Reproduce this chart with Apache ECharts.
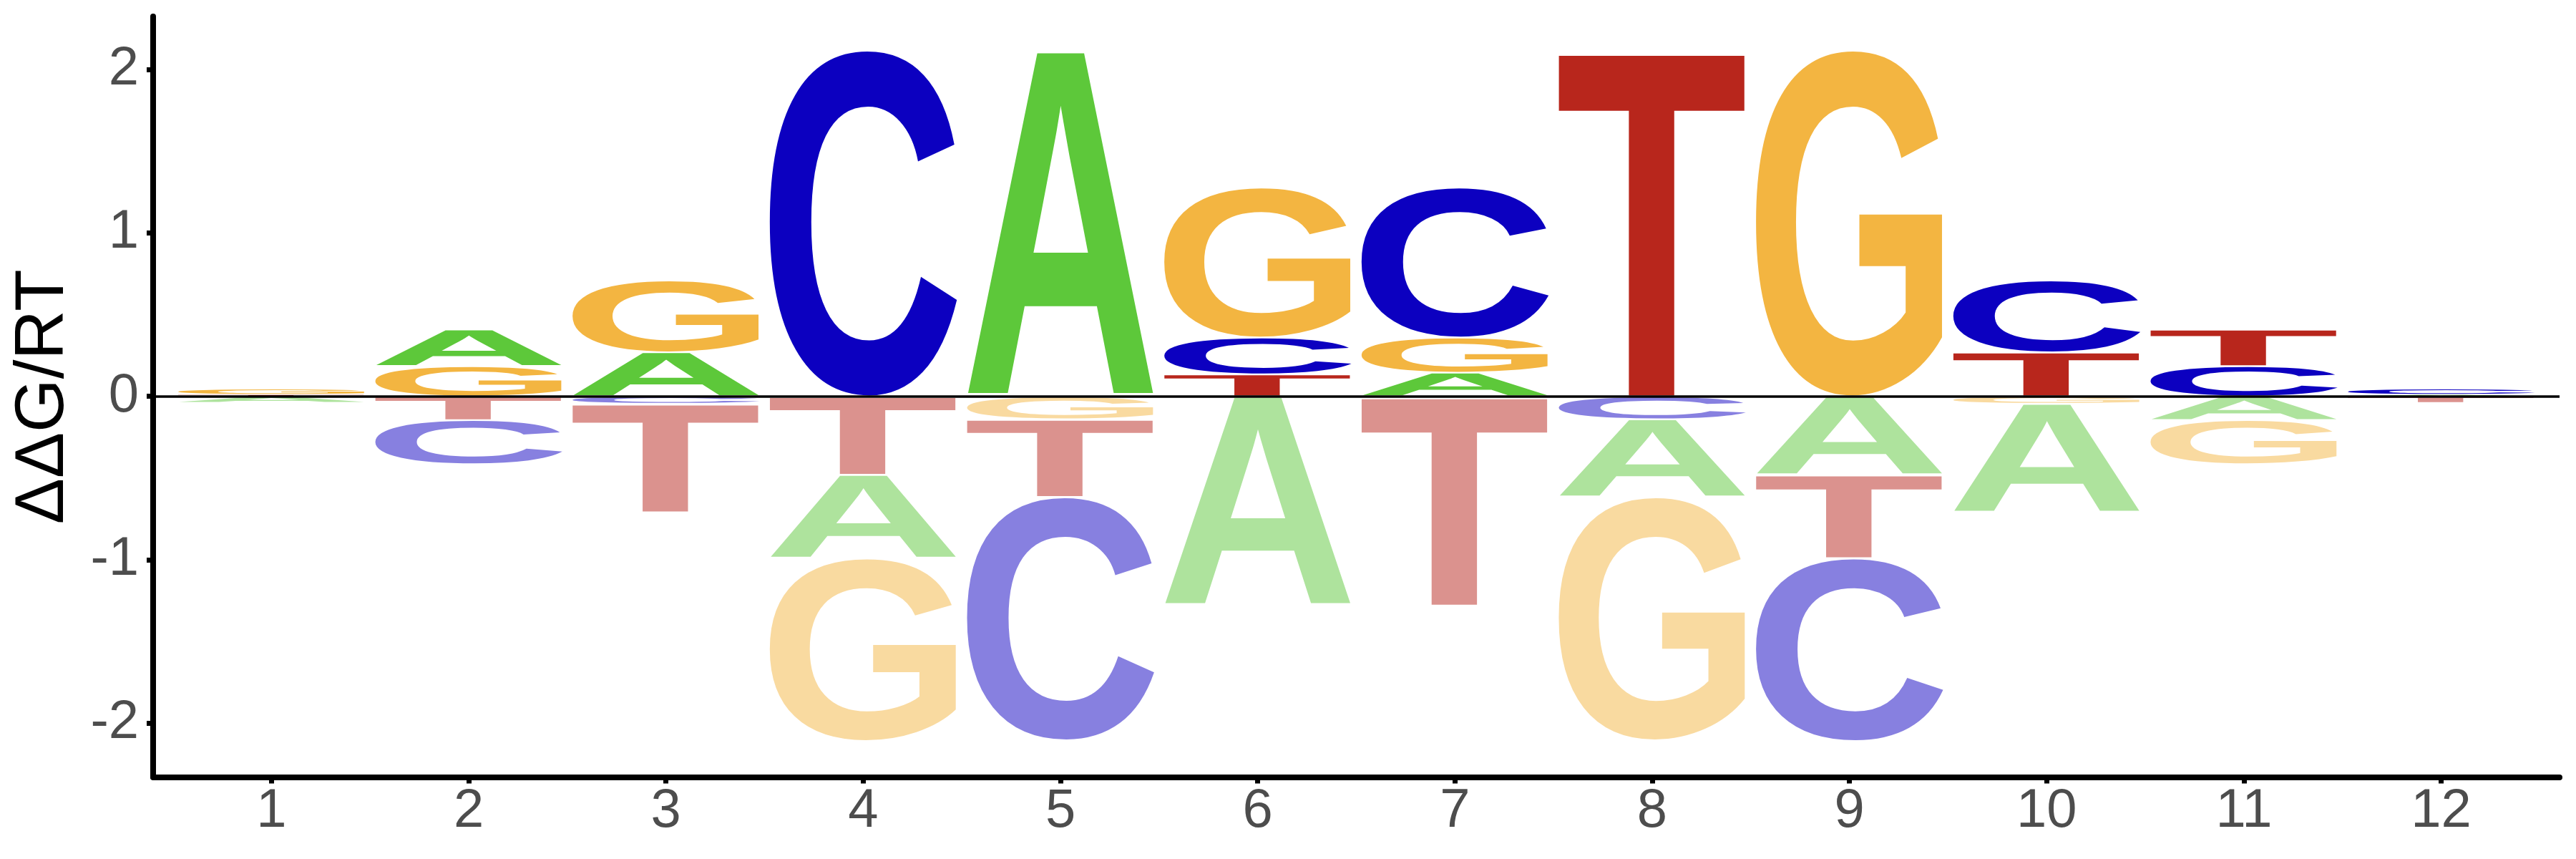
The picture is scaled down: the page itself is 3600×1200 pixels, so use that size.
<!DOCTYPE html>
<html>
<head>
<meta charset="utf-8">
<script src="https://cdn.jsdelivr.net/npm/echarts@6/dist/echarts.min.js"></script>
<style>
html, body { margin: 0; padding: 0; background: #ffffff; }
#chart { width: 3600px; height: 1200px; }
</style>
</head>
<body>
<div id="chart"></div>
<script>
// ---------------- data ----------------
const positions = [1, 2, 3, 4, 5, 6, 7, 8, 9, 10, 11, 12];
const xTickLabels = ['1', '2', '3', '4', '5', '6', '7', '8', '9', '10', '11', '12'];
const yTickValues = [-2, -1, 0, 1, 2];
const yTickLabels = ['-2', '-1', '0', '1', '2'];
const letters = ['A', 'C', 'G', 'T'];
// signed ΔΔG/RT contribution of each base at each position
const valuesA = [-0.04, 0.225, 0.27, -0.51, 2.11, -1.28, 0.145, -0.475, -0.48, -0.665, -0.145, 0.01];
const valuesC = [0, -0.27, -0.045, 2.12, -1.49, 0.225, 0.92, -0.14, -1.12, 0.44, 0.185, 0.037];
const valuesG = [0.037, 0.185, 0.44, -1.12, -0.14, 0.92, 0.215, -1.49, 2.12, -0.045, -0.27, 0];
const valuesT = [0.01, -0.145, -0.665, -0.48, -0.475, 0.135, -1.28, 2.11, -0.51, 0.27, 0.225, -0.04];
const yAxisTitle = 'ΔΔG/RT';

// ---------------- styles ----------------
const strongColors = ['#5DC83A', '#0C00C0', '#F3B541', '#B8261C'];
const fadedColors  = ['#AEE39D', '#8780E0', '#F9DAA0', '#DB928E'];
const LETTER_W = 0.95;
const INSET = 0.005;
const FS = 200;
const LETTER_FONT = '"Liberation Sans", Arial, Helvetica, sans-serif';
const AXIS_FONT = '"Liberation Sans", Arial, Helvetica, sans-serif';

// measure glyph ink boxes (textBaseline middle, left aligned), as zrender draws them
const mctx = document.createElement('canvas').getContext('2d');
mctx.font = 'normal bold ' + FS + 'px ' + LETTER_FONT;
mctx.textBaseline = 'middle';
mctx.textAlign = 'left';
const metrics = letters.map(function (ch) {
  const m = mctx.measureText(ch);
  return {
    L: -m.actualBoundingBoxLeft,
    R: m.actualBoundingBoxRight,
    T: -m.actualBoundingBoxAscent,
    B: m.actualBoundingBoxDescent
  };
});

// build stacked letter slots
const seriesVals = [valuesA, valuesC, valuesG, valuesT];
const items = [];
positions.forEach(function (p, i) {
  const vals = letters.map(function (l, k) { return { k: k, v: seriesVals[k][i] }; });
  const ups = vals.filter(function (d) { return d.v > 0; }).sort(function (a, b) { return a.v - b.v; });
  let acc = 0;
  ups.forEach(function (d) { items.push([p, acc, acc + d.v, d.k, 1]); acc += d.v; });
  const downs = vals.filter(function (d) { return d.v < 0; }).sort(function (a, b) { return b.v - a.v; });
  acc = 0;
  downs.forEach(function (d) { items.push([p, acc, acc + d.v, d.k, 0]); acc += d.v; });
});

function renderLetter(params, api) {
  const p = api.value(0), a = api.value(1), b = api.value(2), k = api.value(3), up = api.value(4);
  const h = Math.abs(b - a);
  const ins = Math.min(INSET, h * 0.2);
  const top = Math.max(a, b) - ins;
  const bot = Math.min(a, b) + ins;
  const tl = api.coord([p - LETTER_W / 2, top]);
  const br = api.coord([p + LETTER_W / 2, bot]);
  const m = metrics[k];
  const sx = (br[0] - tl[0]) / (m.R - m.L);
  const sy = Math.max(0.0001, (br[1] - tl[1])) / (m.B - m.T);
  return {
    type: 'text',
    x: tl[0] - m.L * sx,
    y: tl[1] - m.T * sy,
    scaleX: sx,
    scaleY: sy,
    style: {
      text: letters[k],
      x: 0,
      y: 0,
      fill: up ? strongColors[k] : fadedColors[k],
      fontSize: FS,
      fontFamily: LETTER_FONT,
      fontWeight: 'bold',
      align: 'left',
      verticalAlign: 'middle'
    }
  };
}

const chart = echarts.init(document.getElementById('chart'), null, { renderer: 'canvas' });
chart.setOption({
  animation: false,
  backgroundColor: '#ffffff',
  grid: { left: 214, right: 23, top: 23, bottom: 114.5, outerBoundsMode: 'none' },
  xAxis: {
    type: 'value',
    min: 0.4,
    max: 12.6,
    axisLine: { show: true, onZero: false, lineStyle: { color: '#000000', width: 8 } },
    axisTick: { show: true, length: 9, customValues: positions, lineStyle: { color: '#000000', width: 7 } },
    axisLabel: {
      customValues: positions,
      formatter: function (v) { return xTickLabels[positions.indexOf(v)]; },
      fontSize: 76, color: '#4D4D4D', fontFamily: AXIS_FONT, margin: 11
    },
    splitLine: { show: false }
  },
  yAxis: {
    type: 'value',
    min: -2.33,
    max: 2.325,
    name: yAxisTitle,
    nameLocation: 'middle',
    nameRotate: 90,
    nameGap: 104,
    nameTextStyle: { fontSize: 96, color: '#000000', fontFamily: AXIS_FONT },
    axisLine: { show: true, onZero: false, lineStyle: { color: '#000000', width: 8 } },
    axisTick: { show: true, length: 9, customValues: yTickValues, lineStyle: { color: '#000000', width: 7 } },
    axisLabel: {
      customValues: yTickValues,
      formatter: function (v) { return yTickLabels[yTickValues.indexOf(v)]; },
      fontSize: 76, color: '#4D4D4D', fontFamily: AXIS_FONT, margin: 20
    },
    splitLine: { show: false }
  },
  series: [{
    type: 'custom',
    renderItem: renderLetter,
    encode: { x: 0, y: [1, 2] },
    data: items,
    clip: false,
    markLine: {
      silent: true,
      symbol: ['none', 'none'],
      label: { show: false },
      lineStyle: { color: '#000000', width: 3.5, type: 'solid' },
      data: [{ yAxis: 0 }]
    }
  }]
});
</script>
</body>
</html>
